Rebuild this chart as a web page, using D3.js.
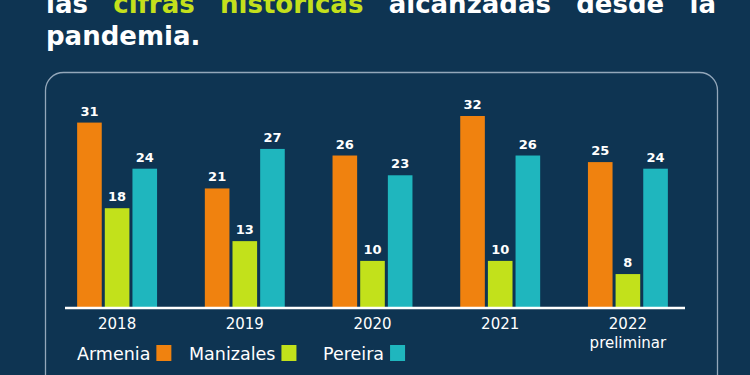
<!DOCTYPE html>
<html lang="es">
<head>
    <meta charset="UTF-8">
    <title>Homicidios</title>
    <style>
        html, body {
            margin: 0;
            padding: 0;
            background: #0e3452;
            overflow: hidden;
        }
        svg {
            display: block;
            font-family: "DejaVu Sans", sans-serif;
        }
    </style>
</head>
<body>
    <script src="https://d3js.org/d3.v7.min.js"></script>
    <script>
        const years = ['2018', '2019', '2020', '2021', '2022']
        const yearNotes = ['', '', '', '', 'preliminar']
        const series = ['Armenia', 'Manizales', 'Pereira']
        const armenia = [31, 21, 26, 32, 25]
        const manizales = [18, 13, 10, 10, 8]
        const pereira = [24, 27, 23, 26, 24]
        const titleWords = [
            ['las', false], ['cifras', true], ['históricas', true],
            ['alcanzadas', false], ['desde', false], ['la', false]
        ]

        const width = 750
        const height = 375
        const colors = ['#f0820f', '#c2e11b', '#1fb6be']
        const values = [armenia, manizales, pereira]

        const svg = d3.select('body')
            .append('svg')
            .attr('width', width)
            .attr('height', height)

        svg.append('rect')
            .attr('width', width)
            .attr('height', height)
            .attr('fill', '#0e3452')

        // titulo justificado (la primera linea queda cortada arriba)
        const line1 = svg.append('g')
        const words = line1.selectAll('text')
            .data(titleWords)
            .enter()
            .append('text')
            .attr('y', 13)
            .attr('font-size', 26)
            .attr('font-weight', 'bold')
            .attr('fill', d => d[1] ? '#c4e01c' : '#ffffff')
            .text(d => d[0])
        const lens = words.nodes().map(n => n.getComputedTextLength())
        const left = 46, right = 716
        const gap = (right - left - d3.sum(lens)) / (lens.length - 1)
        let cx = left
        words.attr('x', (d, i) => {
            const x = cx
            cx += lens[i] + gap
            return x
        })

        svg.append('text')
            .attr('x', 46)
            .attr('y', 45)
            .attr('font-size', 26)
            .attr('font-weight', 'bold')
            .attr('fill', '#ffffff')
            .text('pandemia.')

        // recuadro redondeado
        svg.append('rect')
            .attr('x', 45.5)
            .attr('y', 72.5)
            .attr('width', 672)
            .attr('height', 340)
            .attr('rx', 18)
            .attr('fill', 'none')
            .attr('stroke', '#93a7ba')
            .attr('stroke-width', 1.3)

        const baseY = 307

        const x0 = d3.scaleBand()
            .domain(years)
            .range([65, 680])
            .paddingInner(0.374)
            .paddingOuter(0.095)

        const x1 = d3.scaleBand()
            .domain(series)
            .range([0, x0.bandwidth()])
            .paddingInner(0.11)

        const y = d3.scaleLinear()
            .domain([3, 32])
            .range([baseY, 116])

        const rows = years.map((yr, i) => ({
            year: yr,
            items: series.map((s, j) => ({ key: s, value: values[j][i], color: colors[j] }))
        }))

        const groups = svg.selectAll('g.grupo')
            .data(rows)
            .enter()
            .append('g')
            .attr('class', 'grupo')
            .attr('transform', d => `translate(${x0(d.year)}, 0)`)

        const cells = groups.selectAll('g')
            .data(d => d.items)
            .enter()
            .append('g')

        cells.append('rect')
            .attr('x', d => x1(d.key))
            .attr('y', d => y(d.value))
            .attr('width', x1.bandwidth())
            .attr('height', d => baseY - y(d.value))
            .attr('fill', d => d.color)

        cells.append('text')
            .attr('x', d => x1(d.key) + x1.bandwidth() / 2)
            .attr('y', d => y(d.value) - 7)
            .attr('text-anchor', 'middle')
            .attr('font-size', 13)
            .attr('font-weight', 'bold')
            .attr('fill', '#ffffff')
            .text(d => d.value)

        // linea base
        svg.append('line')
            .attr('x1', 65)
            .attr('x2', 685)
            .attr('y1', baseY + 1)
            .attr('y2', baseY + 1)
            .attr('stroke', '#ffffff')
            .attr('stroke-width', 2.5)

        // etiquetas de los años
        const xLabels = svg.selectAll('text.anio')
            .data(years)
            .enter()
            .append('text')
            .attr('class', 'anio')
            .attr('x', d => x0(d) + x0.bandwidth() / 2)
            .attr('y', 328.5)
            .attr('text-anchor', 'middle')
            .attr('font-size', 15)
            .attr('fill', '#ffffff')
            .text(d => d)

        svg.selectAll('text.nota')
            .data(years.filter((d, i) => yearNotes[i]))
            .enter()
            .append('text')
            .attr('class', 'nota')
            .attr('x', d => x0(d) + x0.bandwidth() / 2)
            .attr('y', 347.5)
            .attr('text-anchor', 'middle')
            .attr('font-size', 15)
            .attr('fill', '#ffffff')
            .text(d => yearNotes[years.indexOf(d)])

        // leyenda
        const legendX = [77, 189, 323]
        const legend = svg.selectAll('g.leyenda')
            .data(series)
            .enter()
            .append('g')
            .attr('class', 'leyenda')
            .attr('transform', (d, i) => `translate(${legendX[i]}, 0)`)

        legend.append('text')
            .attr('y', 360)
            .attr('font-size', 17.5)
            .attr('fill', '#ffffff')
            .text(d => d)

        legend.each(function (d, i) {
            const g = d3.select(this)
            const w = g.select('text').node().getComputedTextLength()
            g.append('rect')
                .attr('x', w + 6)
                .attr('y', 345)
                .attr('width', 15)
                .attr('height', 16)
                .attr('fill', colors[i])
        })
    </script>
</body>
</html>
